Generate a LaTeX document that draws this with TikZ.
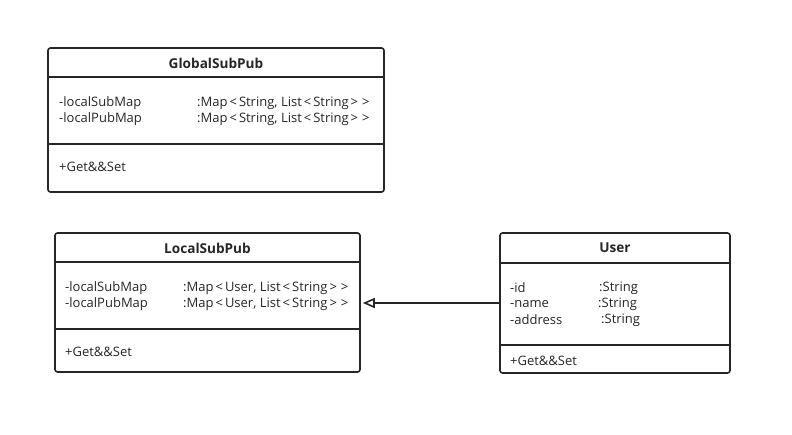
\documentclass[tikz,border=0pt]{standalone}
\usepackage{fontspec}
\setmainfont{Open Sans}
\usetikzlibrary{arrows.meta, positioning}

\newcommand{\angl}{\kern2pt<\kern2pt}
\newcommand{\angr}{\kern2pt>\kern2pt}

\tikzset{
    classbox/.style={draw, line width=1.6pt, rounded corners=2.5pt, rectangle, inner sep=0pt},
    divider/.style={line width=1.4pt},
    title/.style={font=\fontsize{13.6}{15}\selectfont\bfseries},
    member/.style={anchor=west, inner sep=0pt, yshift=-1pt, font=\fontsize{13}{15}\selectfont},
}

\begin{document}
\begin{tikzpicture}[x=1pt, y=-1pt, color={black!85}]
        \useasboundingbox (0,0) rectangle (792,434);
        % Classes
        \node (global) [classbox, minimum width=336pt, minimum height=144pt] at (216,120) {};
        \node (local) [classbox, minimum width=305pt, minimum height=139pt] at (207.5,302.5) {};
        \node (user) [classbox, minimum width=230pt, minimum height=140pt] at (615,303) {};

        % GlobalSubPub
        \node (globaltitle) [title] at (216,63) {GlobalSubPub};
        \draw[divider] (48,77) -- (384,77);
        \draw[divider] (48,144) -- (384,144);
        \node (gsub) [member] at (59,102) {-localSubMap};
        \node (gpub) [member] at (59,118) {-localPubMap};
        \node (gsubtype) [member] at (197,102) {:Map\angl String, List\angl String\angr\angr};
        \node (gpubtype) [member] at (197,118) {:Map\angl String, List\angl String\angr\angr};
        \node (gget) [member] at (59,166) {+Get\&\&Set};

        % LocalSubPub
        \node (localtitle) [title] at (207.5,248) {LocalSubPub};
        \draw[divider] (55,262) -- (360,262);
        \draw[divider] (55,329) -- (360,329);
        \node (lsub) [member] at (65,287) {-localSubMap};
        \node (lpub) [member] at (65,303) {-localPubMap};
        \node (lsubtype) [member] at (183,287) {:Map\angl User, List\angl String\angr\angr};
        \node (lpubtype) [member] at (183,303) {:Map\angl User, List\angl String\angr\angr};
        \node (lget) [member] at (65,351) {+Get\&\&Set};

        % User
        \node (usertitle) [title] at (615,248) {User};
        \draw[divider] (500,263) -- (730,263);
        \draw[divider] (500,345) -- (730,345);
        \node (uid) [member] at (510,287) {-id};
        \node (uname) [member] at (510,303) {-name};
        \node (uaddr) [member] at (510,319) {-address};
        \node (uidtype) [member] at (599,287) {:String};
        \node (unametype) [member] at (598,303) {:String};
        \node (uaddrtype) [member] at (601,319) {:String};
        \node (uget) [member] at (510,360) {+Get\&\&Set};

        % Arrow
        \draw[line width=1.6pt, -{Triangle[open, length=12pt, width=10pt, fill=white]}] (user.west) -- ([xshift=2pt]local.east |- user.west);
    \end{tikzpicture}
\end{document}
